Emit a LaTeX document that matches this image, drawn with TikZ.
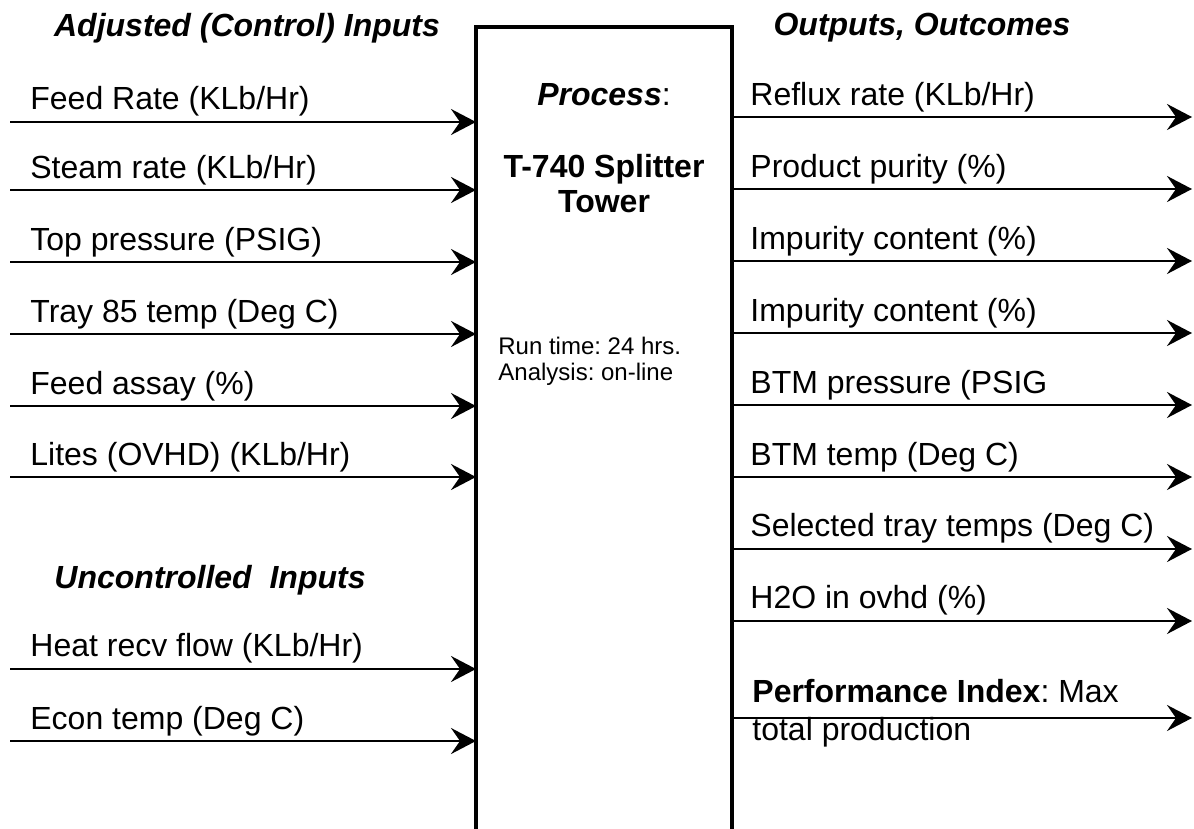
\documentclass[tikz,border=0pt]{standalone}
\usepackage{fontspec}
\setmainfont{Liberation Sans}
\usetikzlibrary{arrows.meta}
\frenchspacing

\tikzset{
	lbl/.style={anchor=base west, inner sep=0pt, font=\fontsize{16}{19}\selectfont},
	small/.style={anchor=base west, inner sep=0pt, font=\fontsize{12}{13}\selectfont},
	ttl/.style={anchor=base, inner sep=0pt, font=\fontsize{16}{19}\selectfont\bfseries\itshape},
	flow/.style={line width=1.25pt, -{Stealth[length=12.5pt, width=13pt, inset=4.5pt]}},
	towerbox/.style={draw, line width=2pt, outer sep=0pt, inner sep=0pt, minimum width=128pt, minimum height=440pt, anchor=north}
}

\begin{document}
\begin{tikzpicture}[x=0.5pt, y=-0.5pt]
			\clip (0, 0) rectangle (1194, 829);
			\node [towerbox] (tower) at (604, 27) {};
			\node [ttl] (tadj) at (247, 37) {Adjusted (Control) Inputs};
			\node [ttl] (tout) at (922, 36) {Outputs, Outcomes};
			\node [ttl] (tunc) at (210, 588) {Uncontrolled\ \ Inputs};
			\node [anchor=base, inner sep=0pt, font=\fontsize{16}{19}\selectfont] (pttl) at (604, 105) {\textbf{\textit{Process}}:};
			\node [anchor=base, inner sep=0pt, font=\fontsize{16}{19}\selectfont\bfseries] (pname1) at (604, 177) {T-740 Splitter};
			\node [anchor=base, inner sep=0pt, font=\fontsize{16}{19}\selectfont\bfseries] (pname2) at (604, 213) {Tower};
			\node [small] (prun) at (498, 354) {Run time: 24 hrs.};
			\node [small] (pana) at (498, 380) {Analysis: on-line};

			\node [lbl] (in1) at (30, 110) {Feed Rate (KLb/Hr)};
			\node [lbl] (in2) at (30, 178) {Steam rate (KLb/Hr)};
			\node [lbl] (in3) at (30, 250) {Top pressure (PSIG)};
			\node [lbl] (in4) at (30, 322) {Tray 85 temp (Deg C)};
			\node [lbl] (in5) at (30, 394) {Feed assay (\%)};
			\node [lbl] (in6) at (30, 465) {Lites (OVHD) (KLb/Hr)};
			\node [lbl] (in7) at (30, 656) {Heat recv flow (KLb/Hr)};
			\node [lbl] (in8) at (30, 729) {Econ temp (Deg C)};
			\coordinate (a1) at (10, 122);
			\coordinate (a2) at (10, 190);
			\coordinate (a3) at (10, 262);
			\coordinate (a4) at (10, 334);
			\coordinate (a5) at (10, 406);
			\coordinate (a6) at (10, 477);
			\coordinate (a7) at (10, 669);
			\coordinate (a8) at (10, 741);
			\draw [flow] (a1) -- (a1 -| tower.west);
			\draw [flow] (a2) -- (a2 -| tower.west);
			\draw [flow] (a3) -- (a3 -| tower.west);
			\draw [flow] (a4) -- (a4 -| tower.west);
			\draw [flow] (a5) -- (a5 -| tower.west);
			\draw [flow] (a6) -- (a6 -| tower.west);
			\draw [flow] (a7) -- (a7 -| tower.west);
			\draw [flow] (a8) -- (a8 -| tower.west);

			\node [lbl] (out1) at (750, 105) {Reflux rate (KLb/Hr)};
			\node [lbl] (out2) at (750, 177) {Product purity (\%)};
			\node [lbl] (out3) at (750, 249) {Impurity content (\%)};
			\node [lbl] (out4) at (750, 321) {Impurity content (\%)};
			\node [lbl] (out5) at (750, 393) {BTM pressure (PSIG};
			\node [lbl] (out6) at (750, 465) {BTM temp (Deg C)};
			\node [lbl] (out7) at (750, 536) {Selected tray temps (Deg C)};
			\node [lbl] (out8) at (750, 608) {H2O in ovhd (\%)};
			\node [lbl] (out9) at (752, 702) {\textbf{Performance Index}: Max};
			\node [lbl] (out9b) at (752, 740) {total production};
			\coordinate (b1) at (1192, 117);
			\coordinate (b2) at (1192, 189);
			\coordinate (b3) at (1192, 261);
			\coordinate (b4) at (1192, 333);
			\coordinate (b5) at (1192, 405);
			\coordinate (b6) at (1192, 477);
			\coordinate (b7) at (1192, 549);
			\coordinate (b8) at (1192, 621);
			\coordinate (b9) at (1192, 718);
			\draw [flow] (b1 -| tower.east) -- (b1);
			\draw [flow] (b2 -| tower.east) -- (b2);
			\draw [flow] (b3 -| tower.east) -- (b3);
			\draw [flow] (b4 -| tower.east) -- (b4);
			\draw [flow] (b5 -| tower.east) -- (b5);
			\draw [flow] (b6 -| tower.east) -- (b6);
			\draw [flow] (b7 -| tower.east) -- (b7);
			\draw [flow] (b8 -| tower.east) -- (b8);
			\draw [flow] (b9 -| tower.east) -- (b9);
		\end{tikzpicture}
\end{document}
